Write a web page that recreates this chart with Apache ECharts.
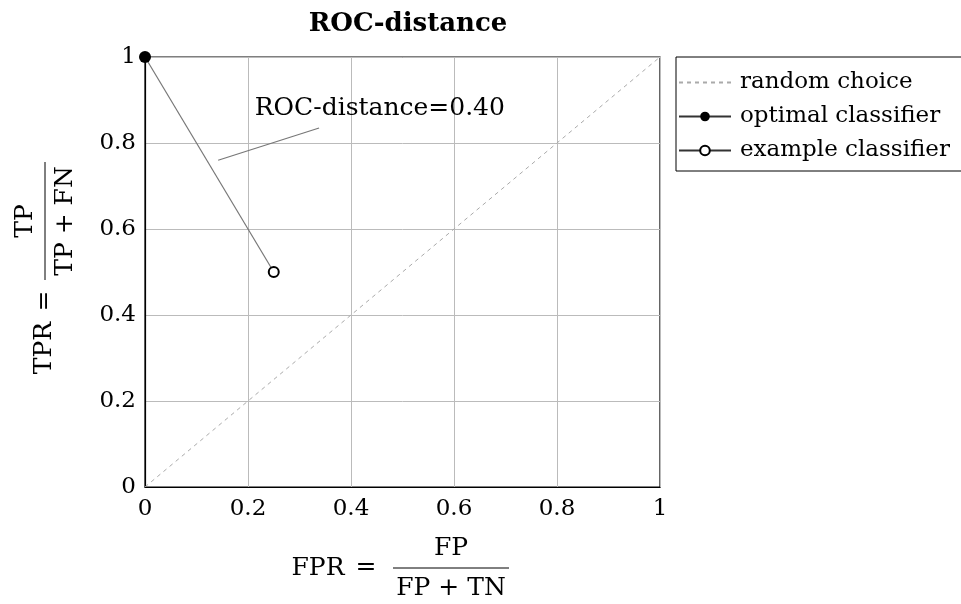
<!DOCTYPE html>
<html>
<head>
<meta charset="utf-8">
<script src="https://cdn.jsdelivr.net/npm/echarts@6/dist/echarts.min.js"></script>
<style>html,body{margin:0;padding:0;background:#fff}#c{width:961px;height:604px}</style>
</head>
<body>
<div id="c"></div>
<script>
const titleText = 'ROC-distance';
const xTicks = [0, 0.2, 0.4, 0.6, 0.8, 1];
const yTicks = [0, 0.2, 0.4, 0.6, 0.8, 1];
const randomChoice = [[0, 0], [1, 1]];
const optimalPoint = [[0, 1]];
const examplePoint = [[0.25, 0.5]];
const distanceSegment = [[0, 1], [0.25, 0.5]];
const annotationPointer = [[0.142, 0.76], [0.338, 0.835]];
const annotationPos = [[0.456, 0.881]];
const annotationText = 'ROC-distance=0.40';
const legendNames = ['random choice', 'optimal classifier', 'example classifier'];

const FONT = 'DejaVu Serif';
const FS = 23;
const FL = '25px "DejaVu Serif"';
const chart = echarts.init(document.getElementById('c'));
chart.setOption({
  animation: false,
  title: {
    text: titleText, left: 403, top: 6, textAlign: 'center',
    textStyle: {fontFamily: FONT, fontWeight: 'bold', fontSize: 26, color: '#000'}
  },
  grid: {left: 145, right: 301, top: 57, bottom: 117, show: true, borderColor: '#000', borderWidth: 1.2, backgroundColor: 'transparent'},
  legend: {
    data: [
      {name: legendNames[0], itemStyle: {opacity: 0}},
      {name: legendNames[1]},
      {name: legendNames[2]}
    ],
    orient: 'vertical', left: 676, top: 57,
    padding: [14, 20, 9, 2], itemGap: 11, itemWidth: 52, itemHeight: 12,
    borderColor: '#000', borderWidth: 1, borderRadius: 0,
    textStyle: {fontFamily: FONT, fontSize: FS, color: '#000', padding: [0, 0, 0, 4]}
  },
  xAxis: {
    type: 'value', min: xTicks[0], max: xTicks[xTicks.length - 1], interval: 0.2,
    axisLine: {lineStyle: {color: '#000', width: 1.2}},
    axisTick: {show: false},
    splitLine: {lineStyle: {color: '#bbb', width: 1}},
    axisLabel: {fontFamily: FONT, fontSize: FS, color: '#000', margin: 11}
  },
  yAxis: {
    type: 'value', min: yTicks[0], max: yTicks[yTicks.length - 1], interval: 0.2,
    axisLine: {lineStyle: {color: '#000', width: 1.2}},
    axisTick: {show: false},
    splitLine: {lineStyle: {color: '#bbb', width: 1}},
    axisLabel: {fontFamily: FONT, fontSize: FS, color: '#000', margin: 9}
  },
  graphic: [
    {type: 'text', x: 318, y: 568, style: {text: 'FPR', font: FL, fill: '#000', align: 'center', verticalAlign: 'middle'}},
    {type: 'text', x: 366, y: 567, style: {text: '=', font: FL, fill: '#000', align: 'center', verticalAlign: 'middle'}},
    {type: 'text', x: 451, y: 548, style: {text: 'FP', font: FL, fill: '#000', align: 'center', verticalAlign: 'middle'}},
    {type: 'line', shape: {x1: 393, y1: 568, x2: 509, y2: 568}, style: {stroke: '#000', lineWidth: 1}},
    {type: 'text', x: 451, y: 588, style: {text: 'FP + TN', font: FL, fill: '#000', align: 'center', verticalAlign: 'middle'}},
    {type: 'group', x: 45, y: 221, rotation: Math.PI / 2, children: [
      {type: 'text', x: -127, y: -1, style: {text: 'TPR', font: FL, fill: '#000', align: 'center', verticalAlign: 'middle'}},
      {type: 'text', x: -80, y: -1, style: {text: '=', font: FL, fill: '#000', align: 'center', verticalAlign: 'middle'}},
      {type: 'text', x: 0, y: -20, style: {text: 'TP', font: FL, fill: '#000', align: 'center', verticalAlign: 'middle'}},
      {type: 'line', shape: {x1: -59, y1: 0, x2: 59, y2: 0}, style: {stroke: '#000', lineWidth: 1}},
      {type: 'text', x: 0, y: 20, style: {text: 'TP + FN', font: FL, fill: '#000', align: 'center', verticalAlign: 'middle'}}
    ]}
  ],
  series: [
    {name: legendNames[0], type: 'line', data: randomChoice, showSymbol: false, symbol: 'none',
     lineStyle: {color: '#aaa', width: 1, type: [4, 4]}, itemStyle: {color: '#aaa'}},
    {name: '_segment', type: 'line', data: distanceSegment, symbol: 'none', lineStyle: {color: '#777', width: 1.2}, z: 3},
    {name: '_pointer', type: 'line', data: annotationPointer, symbol: 'none', lineStyle: {color: '#777', width: 1.2}},
    {name: '_text', type: 'scatter', data: annotationPos, symbolSize: 1, itemStyle: {color: 'transparent', opacity: 1},
     label: {show: true, position: 'inside', formatter: annotationText, fontFamily: FONT, fontSize: 25, color: '#000', textBorderWidth: 0}},
    {name: legendNames[1], type: 'line', data: optimalPoint, symbol: 'circle', symbolSize: 12,
     itemStyle: {color: '#000'}, lineStyle: {color: '#333', width: 1.2}, z: 5, clip: false},
    {name: legendNames[2], type: 'line', data: examplePoint, symbol: 'emptyCircle', symbolSize: 10,
     itemStyle: {color: '#000', borderWidth: 1.2}, lineStyle: {color: '#333', width: 1.2}, z: 5}
  ]
});
</script>
</body>
</html>
